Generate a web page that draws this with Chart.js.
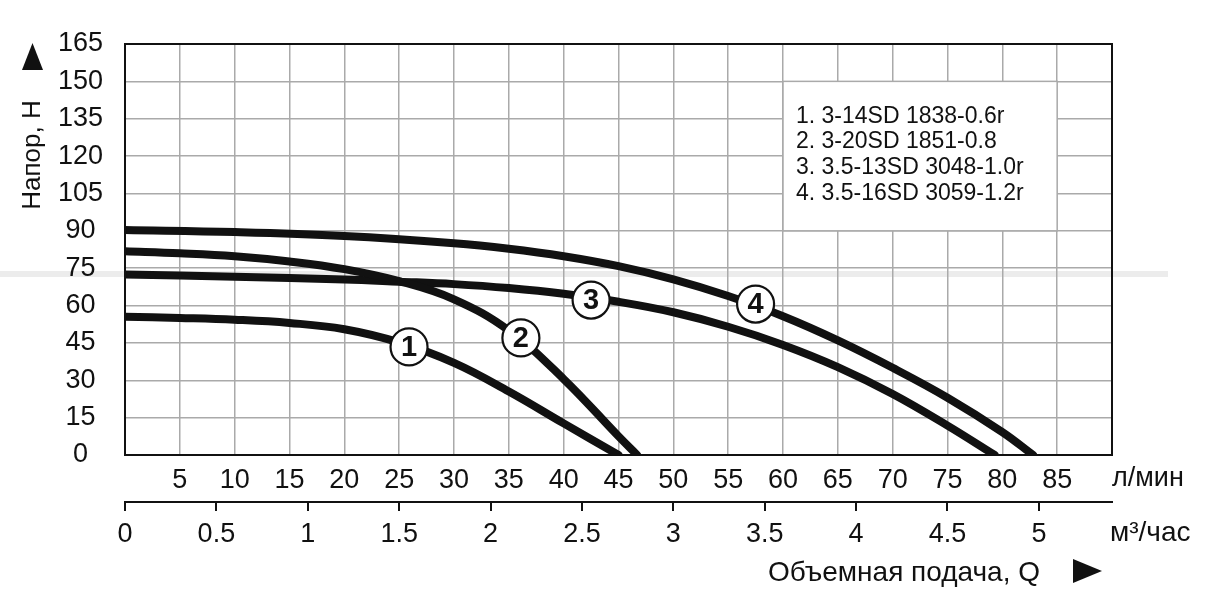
<!DOCTYPE html>
<html>
<head>
<meta charset="utf-8">
<script src="https://cdn.jsdelivr.net/npm/chart.js@4.4.0/dist/chart.umd.min.js"></script>
<style>
  html, body { margin: 0; padding: 0; background: #fff; }
  canvas { display: block; }
</style>
</head>
<body>
<canvas id="pumpChart" width="1217" height="611"></canvas>
<script>
// curve data, flow in л/мин, head in м
const flow1 = [0, 5, 10, 15, 20, 25, 30, 35, 40, 45];
const head1 = [55.5, 55, 54.3, 53, 50.5, 45.2, 37, 25.5, 12.7, 0];

const flow2 = [0, 5, 10, 15, 20, 25, 30, 35, 40, 45, 46.7];
const head2 = [81.8, 81, 79.8, 77.7, 74.6, 69.8, 62.5, 50, 30.5, 7.5, 0];

const flow3 = [0, 10, 20, 25, 30, 35, 40, 45, 50, 55, 60, 65, 70, 75, 79.3];
const head3 = [72.5, 71.6, 70.5, 69.6, 68.6, 67, 64.7, 61.5, 57.3, 51.5, 44.2, 35.3, 24.5, 11.8, 0];

const flow4 = [0, 10, 20, 30, 35, 40, 45, 50, 55, 60, 65, 70, 75, 80, 82.8];
const head4 = [90.3, 89.5, 87.9, 85, 82.8, 79.8, 75.8, 70.5, 63.8, 55.7, 46, 35, 23, 9.2, 0];

const seriesNames = ['1. 3-14SD 1838-0.6r', '2. 3-20SD 1851-0.8', '3. 3.5-13SD 3048-1.0r', '4. 3.5-16SD 3059-1.2r'];
const markerText = ['1', '2', '3', '4'];
const markerFlow = [25.9, 36.1, 42.5, 57.5];
const markerHead = [43.4, 47, 62.2, 60.6];

const headMax = 165;
const headStep = 15;
const flowMax = 90;            // л/мин
const flowStep = 5;
const cubicMax = flowMax * 60 / 1000;  // м³/час
const cubicStep = 0.5;

const FONT = "'Liberation Sans', Arial, sans-serif";
const INK = '#111';

const toPoints = (xs, ys) => xs.map((x, i) => ({ x: x, y: ys[i] }));

const curveStyle = {
    borderColor: INK,
    borderWidth: 8,
    borderCapStyle: 'round',
    borderJoinStyle: 'round',
    pointRadius: 0,
    tension: 0.4,
    fill: false,
};

const decor = {
    id: 'decor',
    beforeDraw(chart) {
        const ctx = chart.ctx;
        ctx.save();
        ctx.fillStyle = '#ececec';
        ctx.fillRect(0, 271, 1168, 6);
        ctx.restore();
    },
    beforeDatasetsDraw(chart) {
        const { ctx, chartArea: a, scales: { x, y } } = chart;
        ctx.save();
        // legend box sits on grid cells 60..85 x 90..150
        const l = x.getPixelForValue(60), r = x.getPixelForValue(85);
        const t = y.getPixelForValue(150), b = y.getPixelForValue(90);
        ctx.fillStyle = '#fff';
        ctx.fillRect(l, t, r - l, b - t);
        ctx.strokeStyle = '#aaa';
        ctx.lineWidth = 1.5;
        ctx.strokeRect(l, t, r - l, b - t);
        ctx.fillStyle = INK;
        ctx.font = '23px ' + FONT;
        ctx.textBaseline = 'middle';
        ctx.textAlign = 'left';
        seriesNames.forEach((s, i) => ctx.fillText(s, l + 13, t + 35 + i * 25.6));
        // frame
        ctx.strokeStyle = INK;
        ctx.lineWidth = 2;
        ctx.strokeRect(a.left, a.top, a.right - a.left, a.bottom - a.top);
        ctx.restore();
    },
    afterDatasetsDraw(chart) {
        const { ctx, scales: { x, y } } = chart;
        ctx.save();
        markerText.forEach((txt, i) => {
            const px = x.getPixelForValue(markerFlow[i]);
            const py = y.getPixelForValue(markerHead[i]);
            ctx.beginPath();
            ctx.arc(px, py, 18.5, 0, Math.PI * 2);
            ctx.fillStyle = '#fff';
            ctx.fill();
            ctx.lineWidth = 2.2;
            ctx.strokeStyle = INK;
            ctx.stroke();
            ctx.fillStyle = INK;
            ctx.font = 'bold 29px ' + FONT;
            ctx.textAlign = 'center';
            ctx.textBaseline = 'middle';
            ctx.fillText(txt, px, py + 1);
        });
        ctx.restore();
    },
    afterDraw(chart) {
        const { ctx, chartArea: a, scales: { x, x2 } } = chart;
        ctx.save();
        ctx.fillStyle = INK;
        ctx.textBaseline = 'middle';
        // units
        ctx.textAlign = 'left';
        ctx.font = '27px ' + FONT;
        ctx.fillText('л/мин', a.right, x.top + 24);
        ctx.font = '28px ' + FONT;
        ctx.fillText('м³/час', a.right - 2, x2.top + 31);
        // x title
        ctx.textAlign = 'right';
        ctx.fillText('Объемная подача, Q', a.right - 72, x2.top + 71);
        // arrow right
        ctx.beginPath();
        ctx.moveTo(a.right - 39, x2.top + 57);
        ctx.lineTo(a.right - 39, x2.top + 81);
        ctx.lineTo(a.right - 10, x2.top + 69);
        ctx.closePath();
        ctx.fill();
        // y title
        ctx.font = '26px ' + FONT;
        ctx.translate(33, 155);
        ctx.rotate(-Math.PI / 2);
        ctx.textAlign = 'center';
        ctx.fillText('Напор, Н', 0, 0);
        ctx.restore();
        // arrow up
        ctx.save();
        ctx.fillStyle = INK;
        ctx.beginPath();
        ctx.moveTo(22, 70);
        ctx.lineTo(43, 70);
        ctx.lineTo(32.5, 43);
        ctx.closePath();
        ctx.fill();
        ctx.restore();
    },
};

const config = {
    type: 'line',
    data: {
        datasets: [
            { label: seriesNames[0], data: toPoints(flow1, head1), ...curveStyle },
            { label: seriesNames[1], data: toPoints(flow2, head2), ...curveStyle },
            { label: seriesNames[2], data: toPoints(flow3, head3), ...curveStyle },
            { label: seriesNames[3], data: toPoints(flow4, head4), ...curveStyle },
        ],
    },
    options: {
        responsive: false,
        animation: false,
        devicePixelRatio: 1,
        layout: { padding: { left: 0, right: 105, top: 44, bottom: 49 } },
        plugins: { legend: { display: false }, tooltip: { enabled: false } },
        scales: {
            x: {
                type: 'linear',
                position: 'bottom',
                min: 0,
                max: flowMax,
                afterFit: (s) => { s.height = 47; },
                border: { display: false },
                grid: { color: '#aaa', lineWidth: 1.5, drawTicks: false },
                ticks: {
                    stepSize: flowStep,
                    autoSkip: false,
                    maxRotation: 0,
                    padding: 9,
                    color: INK,
                    font: { size: 27, family: FONT },
                    callback: (v) => (v === 0 || v === flowMax) ? '' : String(v),
                },
            },
            x2: {
                type: 'linear',
                position: 'bottom',
                min: 0,
                max: cubicMax,
                afterFit: (s) => { s.height = 60; },
                border: { display: true, color: INK, width: 2 },
                grid: { drawOnChartArea: false, drawTicks: true, tickLength: 9, color: INK, lineWidth: 2 },
                ticks: {
                    stepSize: cubicStep,
                    includeBounds: false,
                    autoSkip: false,
                    maxRotation: 0,
                    padding: 7,
                    color: INK,
                    font: { size: 27, family: FONT },
                    callback: (v) => String(Math.round(v * 10) / 10),
                },
            },
            y: {
                type: 'linear',
                min: 0,
                max: headMax,
                afterFit: (s) => { s.width = 125; },
                border: { display: false },
                grid: { color: '#aaa', lineWidth: 1.5, drawTicks: false },
                ticks: {
                    stepSize: headStep,
                    crossAlign: 'center',
                    padding: 22,
                    color: INK,
                    font: { size: 27, family: FONT },
                },
            },
        },
    },
    plugins: [decor],
};

const ctx = document.getElementById('pumpChart').getContext('2d');
const pumpChart = new Chart(ctx, config);
</script>
</body>
</html>
